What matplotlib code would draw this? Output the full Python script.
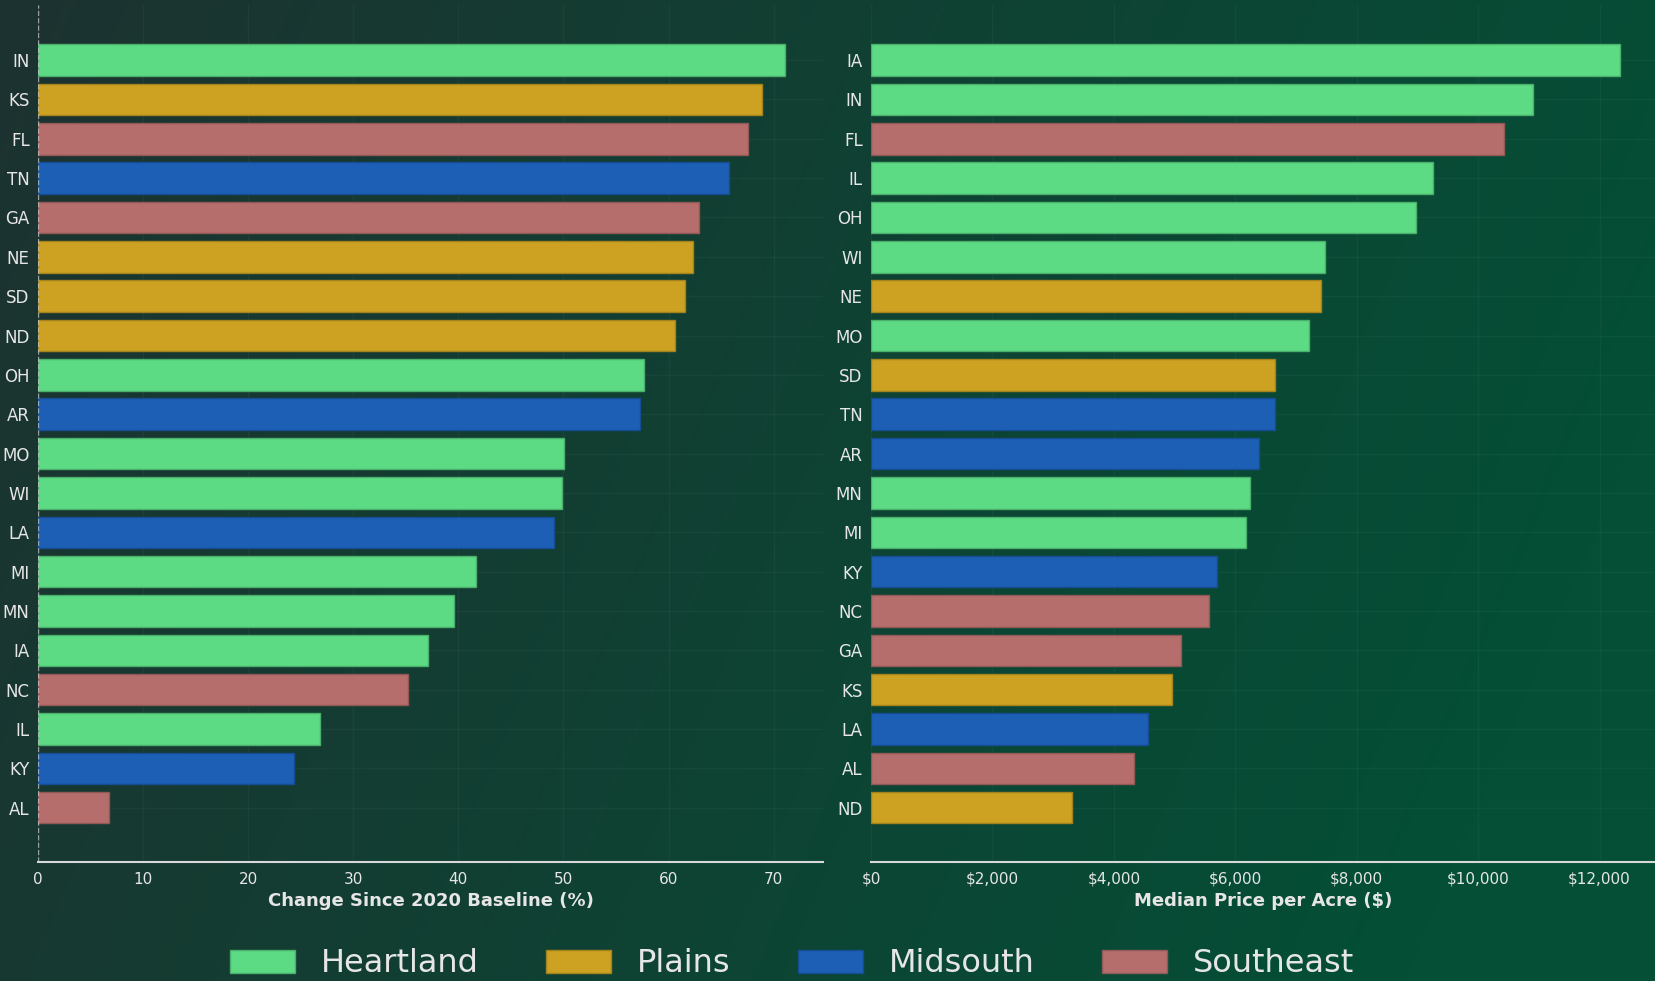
import numpy as np
import matplotlib
matplotlib.use("Agg")
import matplotlib.pyplot as plt
from matplotlib.patches import Patch
from matplotlib.colors import to_rgb
from matplotlib.ticker import FuncFormatter

# ---- data ----
left_states = ["IN", "KS", "FL", "TN", "GA", "NE", "SD", "ND", "OH", "AR",
               "MO", "WI", "LA", "MI", "MN", "IA", "NC", "IL", "KY", "AL"]
left_change = [71.1, 68.9, 67.6, 65.8, 62.9, 62.3, 61.6, 60.6, 57.7, 57.3,
               50.1, 49.9, 49.1, 41.7, 39.6, 37.1, 35.2, 26.8, 24.4, 6.8]
left_region = ["Heartland", "Plains", "Southeast", "Midsouth", "Southeast", "Plains", "Plains", "Plains",
               "Heartland", "Midsouth", "Heartland", "Heartland", "Midsouth", "Heartland", "Heartland",
               "Heartland", "Southeast", "Heartland", "Midsouth", "Southeast"]

right_states = ["IA", "IN", "FL", "IL", "OH", "WI", "NE", "MO", "SD", "TN",
                "AR", "MN", "MI", "KY", "NC", "GA", "KS", "LA", "AL", "ND"]
right_price = [12330, 10900, 10430, 9250, 8970, 7470, 7420, 7210, 6650, 6650,
               6390, 6250, 6180, 5700, 5560, 5100, 4960, 4560, 4340, 3310]
right_region = ["Heartland", "Heartland", "Southeast", "Heartland", "Heartland", "Heartland", "Plains",
                "Heartland", "Plains", "Midsouth", "Midsouth", "Heartland", "Heartland", "Midsouth",
                "Southeast", "Southeast", "Plains", "Midsouth", "Southeast", "Plains"]

regions = ["Heartland", "Plains", "Midsouth", "Southeast"]
region_colors = {"Heartland": "#5cdb84", "Plains": "#cda223",
                 "Midsouth": "#1c5fb5", "Southeast": "#b56e6c"}

x_label_left = "Change Since 2020 Baseline (%)"
x_label_right = "Median Price per Acre ($)"

# ---- style ----
TXT = "#e6e6e6"
plt.rcParams["font.family"] = ["DejaVu Sans"]


def darker(c, f=0.8):
    r, g, b = to_rgb(c)
    return (r * f, g * f, b * f)


W, H = 1656, 981
fig = plt.figure(figsize=(W / 100, H / 100), dpi=100)

# background gradient
bg = fig.add_axes([0, 0, 1, 1], zorder=-10)
bg.set_axis_off()
nx, ny = 400, 240
xx, yy = np.meshgrid(np.linspace(0, 1, nx), np.linspace(0, 1, ny))
t = np.clip((xx + 0.25 * yy) / 1.1, 0, 1)
c0 = np.array(to_rgb("#1d3230"))
c1 = np.array(to_rgb("#044f36"))
img = c0[None, None, :] * (1 - t[..., None]) + c1[None, None, :] * t[..., None]
bg.imshow(img, aspect="auto", extent=[0, 1, 0, 1], origin="upper")

bottom = 1 - 862 / H
top = 1 - 5 / H
ax1 = fig.add_axes([38 / W, bottom, 785 / W, top - bottom])
ax2 = fig.add_axes([871 / W, bottom, 785 / W, top - bottom])


def draw(ax, states, vals, regs, xmax, xlabel):
    n = len(states)
    ypos = np.arange(n)[::-1]
    cols = [region_colors[r] for r in regs]
    ax.barh(ypos, vals, height=0.8, color=cols,
            edgecolor=[darker(c) for c in cols], linewidth=1.0, zorder=3)
    ax.set_yticks(ypos)
    ax.set_yticklabels(states)
    ax.set_ylim(-1.38, n - 1 + 1.4)
    ax.set_xlim(0, xmax)
    ax.set_facecolor("none")
    ax.patch.set_alpha(0)
    for s in ["top", "right", "left"]:
        ax.spines[s].set_visible(False)
    ax.spines["bottom"].set_color("#d8d8d8")
    ax.spines["bottom"].set_linewidth(1.5)
    ax.tick_params(axis="both", length=0, colors=TXT)
    ax.tick_params(axis="y", labelsize=12, pad=6)
    ax.tick_params(axis="x", labelsize=11, pad=7)
    ax.grid(True, color="white", alpha=0.035, linewidth=1, zorder=0)
    ax.set_axisbelow(True)
    ax.set_xlabel(xlabel, fontsize=13, fontweight="bold", color=TXT, labelpad=4)


draw(ax1, left_states, left_change, left_region, 74.7, x_label_left)
ax1.set_xticks(np.arange(0, 71, 10))
ax1.axvline(0, color="#cfcfcf", linestyle="--", linewidth=1, alpha=0.7, zorder=4)

draw(ax2, right_states, right_price, right_region, 12930, x_label_right)
ax2.set_xticks(np.arange(0, 12001, 2000))
ax2.xaxis.set_major_formatter(FuncFormatter(lambda v, p: f"${v:,.0f}"))

handles = [Patch(facecolor=region_colors[r], edgecolor=darker(region_colors[r]), label=r)
           for r in regions]
leg = fig.legend(handles=handles, loc="center", bbox_to_anchor=(792 / W, 1 - 964 / H),
                 ncol=4, frameon=False, fontsize=23, handlelength=2.05, handleheight=0.72,
                 handletextpad=0.8, columnspacing=2.1)
for txt in leg.get_texts():
    txt.set_color(TXT)

fig.savefig("out.png", dpi=100)
